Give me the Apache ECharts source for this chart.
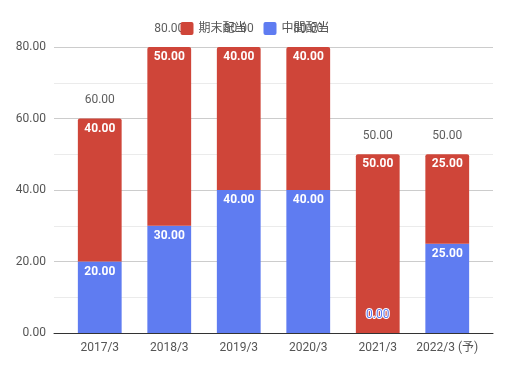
<!DOCTYPE html>
<html><head><meta charset="utf-8">
<script src="https://cdn.jsdelivr.net/npm/echarts@6/dist/echarts.min.js"></script>
<style>html,body{margin:0;padding:0;background:#fff}#c{width:510px;height:369px}</style>
</head><body><div id="c"></div>
<script>
const categories = ['2017/3','2018/3','2019/3','2020/3','2021/3','2022/3 (予)'];
const interimDividend = [20, 30, 40, 40, 0, 25];   // 中間配当
const yearEndDividend = [40, 50, 40, 40, 50, 25];  // 期末配当
const totals = [60, 80, 80, 80, 50, 50];
const yTicks = [0, 20, 40, 60, 80];

const FONT = 'Roboto, "Noto Sans CJK JP", sans-serif';
const RED = '#cf4539', BLUE = '#5f7cf1';
const yMin = yTicks[0], yMax = yTicks[yTicks.length - 1];
const chart = echarts.init(document.getElementById('c'));
chart.setOption({
  animation: false,
  textStyle: { fontFamily: FONT },
  grid: [
    { left: 54, right: 17, top: 47, bottom: 36 },
    { left: 65, right: 28, top: 47, bottom: 36 }
  ],
  legend: {
    top: 17, left: 'center', itemWidth: 13, itemHeight: 13, itemGap: 17,
    icon: 'path://M2,0H11Q13,0 13,2V11Q13,13 11,13H2Q0,13 0,11V2Q0,0 2,0Z',
    textStyle: { fontSize: 12, color: '#555', fontFamily: FONT },
    data: ['期末配当', '中間配当']
  },
  xAxis: [
    {
      gridIndex: 0, type: 'value', min: 0, max: 1,
      axisLine: { show: true, onZero: false, lineStyle: { color: '#333' } },
      axisTick: { show: false }, axisLabel: { show: false }, splitLine: { show: false }
    },
    {
      gridIndex: 1, type: 'category', data: categories,
      axisLine: { show: false },
      axisTick: { show: false },
      axisLabel: { color: '#555', fontSize: 12, margin: 9, interval: 0 }
    }
  ],
  yAxis: [
    {
      gridIndex: 0, type: 'value', min: yMin, max: yMax, interval: 20,
      axisLine: { show: false }, axisTick: { show: false },
      axisLabel: { color: '#555', fontSize: 12, margin: 8, formatter: v => v.toFixed(2) },
      splitLine: { lineStyle: { color: '#ccc' } },
      minorTick: { show: false, splitNumber: 2 },
      minorSplitLine: { show: true, lineStyle: { color: '#ebebeb' } }
    },
    {
      gridIndex: 1, type: 'value', min: yMin, max: yMax, interval: 20, show: false,
      splitLine: { show: false }
    }
  ],
  series: [
    {
      name: '中間配当', type: 'bar', stack: 's', barWidth: '63%',
      xAxisIndex: 1, yAxisIndex: 1,
      itemStyle: { color: BLUE },
      data: interimDividend.map(v => v === 0 ? {
        value: v,
        label: { position: 'top', distance: 12, color: BLUE, textBorderColor: '#fff', textBorderWidth: 2, fontWeight: 'normal' }
      } : v),
      label: { show: true, position: 'insideTop', distance: 4, color: '#fff', fontSize: 12, fontWeight: 'bold', formatter: p => p.value.toFixed(2) }
    },
    {
      name: '期末配当', type: 'bar', stack: 's', barWidth: '63%',
      xAxisIndex: 1, yAxisIndex: 1,
      itemStyle: { color: RED, borderRadius: [2, 2, 0, 0] },
      data: yearEndDividend,
      label: { show: true, position: 'insideTop', distance: 4, color: '#fff', fontSize: 12, fontWeight: 'bold', formatter: p => p.value.toFixed(2) }
    },
    {
      name: 'total', type: 'scatter', symbolSize: 0, data: totals,
      xAxisIndex: 1, yAxisIndex: 1,
      label: { show: true, position: 'top', distance: 12, color: '#333', fontSize: 12, formatter: p => p.value.toFixed(2) },
      silent: true
    }
  ]
});
</script></body></html>
